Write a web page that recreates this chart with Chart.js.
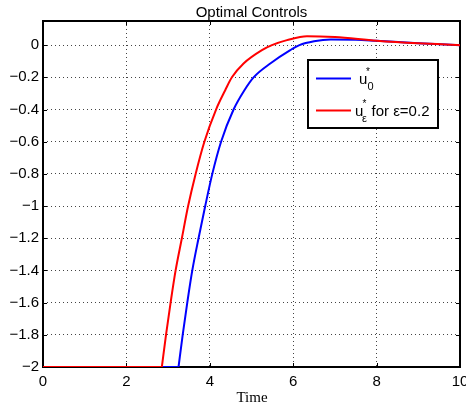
<!DOCTYPE html>
<html>
<head>
<meta charset="utf-8">
<script src="https://cdn.jsdelivr.net/npm/chart.js@4/dist/chart.umd.min.js"></script>
<style>
html,body{margin:0;padding:0;background:#fff;}
#wrap{width:466px;height:409px;position:relative;}
</style>
</head>
<body>
<div id="wrap"><canvas id="c" width="466" height="409"></canvas></div>
<script>
// ---- data ----
// the first two points of each series are the saturated part (u = -2)
const timeBlue = [0, 3.25, 3.35, 3.46, 3.58, 3.73, 3.89, 4.06, 4.27, 4.57, 4.83, 5.05, 5.45, 5.93, 6.15, 6.5, 6.9, 7.5, 8.0, 9.0, 10.0];
const uBlue    = [-2, -2, -1.8, -1.6, -1.4, -1.2, -1.0, -0.8, -0.6, -0.4, -0.28, -0.2, -0.114, -0.031, 0, 0.024, 0.035, 0.034, 0.027, 0.012, 0];
const timeRed  = [0, 2.85, 2.95, 3.06, 3.18, 3.33, 3.48, 3.66, 3.87, 4.15, 4.37, 4.53, 4.81, 5.25, 5.49, 5.85, 6.33, 7.0, 8.0, 9.0, 10.0];
const uRed     = [-2, -2, -1.8, -1.6, -1.4, -1.2, -1.0, -0.8, -0.6, -0.4, -0.28, -0.2, -0.114, -0.031, 0, 0.031, 0.056, 0.05, 0.027, 0.011, 0];

const xTickValues = [0, 2, 4, 6, 8, 10];
const xTickLabels = ['0', '2', '4', '6', '8', '10'];
const yTickValues = [-2, -1.8, -1.6, -1.4, -1.2, -1, -0.8, -0.6, -0.4, -0.2, 0];
const yTickLabels = ['\u22122', '\u22121.8', '\u22121.6', '\u22121.4', '\u22121.2', '\u22121', '\u22120.8', '\u22120.6', '\u22120.4', '\u22120.2', '0'];

const titleText = 'Optimal Controls';
const xAxisTitle = 'Time';

const BLUE = '#0000ff', RED = '#ff0000';

const pts = (xs, ys) => xs.map((x, i) => ({x: x, y: ys[i]}));
const blueAll = pts(timeBlue, uBlue);
const redAll = pts(timeRed, uRed);

const SANS = '"Liberation Sans", Arial, Helvetica, sans-serif';
const SERIF = '"Liberation Serif", "Times New Roman", serif';

const framePlugin = {
  id: 'frame',
  beforeDatasetsDraw(chart) {
    const ctx = chart.ctx, a = chart.chartArea;
    const xs = chart.scales.x, ys = chart.scales.y;
    ctx.save();
    ctx.strokeStyle = '#000';
    ctx.lineWidth = 1;
    ctx.beginPath();
    xTickValues.forEach(v => {
      const px = Math.round(xs.getPixelForValue(v)) + 0.5;
      ctx.moveTo(px, a.bottom); ctx.lineTo(px, a.bottom - 4);
      ctx.moveTo(px, a.top); ctx.lineTo(px, a.top + 4);
    });
    yTickValues.forEach(v => {
      const py = Math.round(ys.getPixelForValue(v)) + 0.5;
      ctx.moveTo(a.left, py); ctx.lineTo(a.left + 4, py);
      ctx.moveTo(a.right, py); ctx.lineTo(a.right - 4, py);
    });
    ctx.stroke();
    ctx.lineWidth = 2;
    ctx.strokeRect(a.left, a.top, a.right - a.left, a.bottom - a.top);
    ctx.restore();
  },
  afterDraw(chart) {
    const ctx = chart.ctx, a = chart.chartArea;
    ctx.save();
    ctx.fillStyle = '#000';
    ctx.textBaseline = 'alphabetic';
    // title
    ctx.font = '15px ' + SANS;
    ctx.textAlign = 'center';
    ctx.fillText(titleText, (a.left + a.right) / 2, 16.5);
    // x axis label
    ctx.font = '15px ' + SERIF;
    ctx.fillText(xAxisTitle, 252, 402);
    // legend
    ctx.textAlign = 'left';
    const L = 308, T = 60, W = 130, H = 68;
    ctx.fillStyle = '#fff';
    ctx.fillRect(L, T, W, H);
    ctx.strokeStyle = '#000';
    ctx.lineWidth = 2;
    ctx.strokeRect(L, T, W, H);
    // row 1
    ctx.lineWidth = 2;
    ctx.strokeStyle = BLUE;
    ctx.beginPath(); ctx.moveTo(316, 78.5); ctx.lineTo(351, 78.5); ctx.stroke();
    ctx.fillStyle = '#000';
    ctx.font = '15px ' + SANS;
    ctx.fillText('u', 359, 83.5);
    ctx.font = '10px ' + SANS;
    ctx.fillText('*', 366, 75);
    ctx.font = '11px ' + SANS;
    ctx.fillText('0', 367.5, 90);
    // row 2
    ctx.strokeStyle = RED;
    ctx.beginPath(); ctx.moveTo(316, 110.5); ctx.lineTo(351, 110.5); ctx.stroke();
    ctx.font = '15px ' + SANS;
    ctx.fillText('u', 355, 115.5);
    ctx.font = '10px ' + SANS;
    ctx.fillText('*', 362.5, 107);
    ctx.font = '11px ' + SANS;
    ctx.fillText('\u03b5', 362, 122);
    ctx.font = '15px ' + SANS;
    ctx.fillText('for \u03b5=0.2', 371.5, 115.5);
    ctx.restore();
  }
};

const lineStyle = (color, order) => ({
  showLine: true,
  borderColor: color,
  borderWidth: 2,
  pointRadius: 0,
  cubicInterpolationMode: 'monotone',
  order: order
});

new Chart(document.getElementById('c'), {
  type: 'scatter',
  data: {
    datasets: [
      Object.assign({ label: 'u0* (saturated)', data: blueAll.slice(0, 2) }, lineStyle(BLUE, 3)),
      Object.assign({ label: 'u0*', data: blueAll.slice(1) }, lineStyle(BLUE, 2)),
      Object.assign({ label: 'ueps* (saturated)', data: redAll.slice(0, 2) }, lineStyle(RED, 1)),
      Object.assign({ label: 'ueps* for eps=0.2', data: redAll.slice(1) }, lineStyle(RED, 0))
    ]
  },
  options: {
    responsive: false,
    animation: false,
    devicePixelRatio: 1,
    layout: { padding: { top: 21, right: 6, left: 0, bottom: 0 } },
    plugins: {
      legend: { display: false },
      title: { display: false },
      tooltip: { enabled: false }
    },
    scales: {
      x: {
        type: 'linear',
        min: 0, max: 10,
        afterBuildTicks(s) { s.ticks = xTickValues.map(v => ({value: v})); },
        afterFit(s) { s.height = 42; s.paddingLeft = 0; s.paddingRight = 0; },
        ticks: {
          color: '#000',
          font: { family: SANS, size: 15 },
          padding: 6,
          maxRotation: 0,
          autoSkip: false,
          callback: (v) => xTickLabels[xTickValues.indexOf(v)]
        },
        grid: { color: '#444', lineWidth: 1, drawTicks: false },
        border: { display: false, dash: [1, 3] }
      },
      y: {
        type: 'linear',
        min: -2, max: 0.15,
        afterBuildTicks(s) { s.ticks = yTickValues.map(v => ({value: v})); },
        afterFit(s) { s.width = 43; s.paddingTop = 0; s.paddingBottom = 0; },
        ticks: {
          color: '#000',
          font: { family: SANS, size: 15 },
          padding: 4,
          autoSkip: false,
          callback: (v) => yTickLabels[yTickValues.indexOf(v)]
        },
        grid: { color: '#444', lineWidth: 1, drawTicks: false },
        border: { display: false, dash: [1, 3] }
      }
    }
  },
  plugins: [framePlugin]
});
</script>
</body>
</html>
